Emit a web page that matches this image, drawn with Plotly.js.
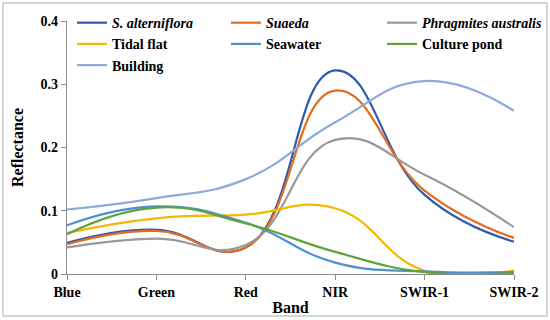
<!DOCTYPE html>
<html>
<head>
<meta charset="utf-8">
<script src="https://cdn.plot.ly/plotly-3.0.1.min.js"></script>
</head>
<body style="margin:0;padding:0;background:#fff">
<div id="chart" style="width:550px;height:320px"></div>
<script>
const bands = ["Blue", "Green", "Red", "NIR", "SWIR-1", "SWIR-2"];
const yTickVals = [0, 0.1, 0.2, 0.3, 0.4];
const yTickText = ["0", "0.1", "0.2", "0.3", "0.4"];
const seriesNames = ["<b><i>S. alterniflora</i></b>", "<b><i>Suaeda</i></b>", "<b><i>Phragmites australis</i></b>", "<b>Tidal flat</b>", "<b>Seawater</b>", "<b>Culture pond</b>", "<b>Building</b>"];
const sAlterniflora = [0.049, 0.070, 0.042, 0.322, 0.125, 0.051];
const suaeda       = [0.047, 0.068, 0.042, 0.290, 0.132, 0.057];
const phragmites   = [0.042, 0.056, 0.046, 0.212, 0.157, 0.074];
const tidalFlat    = [0.065, 0.088, 0.094, 0.104, 0.005, 0.006];
const seawater     = [0.077, 0.107, 0.081, 0.018, 0.004, 0.003];
const culturePond  = [0.063, 0.105, 0.080, 0.035, 0.003, 0.002];
const building     = [0.102, 0.120, 0.150, 0.240, 0.305, 0.258];
const colors = ["#2E5CAB", "#E46C1F", "#999999", "#F5B800", "#4F8FD0", "#5FA33A", "#8EA9DB"];
const legendColumn = ["legend", "legend2", "legend3", "legend", "legend2", "legend3", "legend"];

const allSeries = [sAlterniflora, suaeda, phragmites, tidalFlat, seawater, culturePond, building];
const traces = allSeries.map((vals, i) => ({
  x: bands,
  y: vals,
  name: seriesNames[i],
  legend: legendColumn[i],
  type: "scatter",
  mode: "lines",
  line: {color: colors[i], width: 2.2, shape: "spline", smoothing: 1.3},
  hoverinfo: "skip"
}));

const fam = "Liberation Serif";
const L = 67, R = 514, T = 21, B = 274, W = 550, H = 320;
const pw = R - L, ph = B - T;
const bold = s => "<b>" + s + "</b>";
const legendFont = {family: fam, color: "#000", size: 14};
const mkLegend = x => ({
  orientation: "v", x: x, xanchor: "left", y: 1.055, yanchor: "top",
  font: legendFont, bgcolor: "rgba(0,0,0,0)", traceorder: "normal",
  itemclick: false, tracegroupgap: 0
});

const layout = {
  width: W, height: H,
  margin: {l: L, r: W - R, t: T, b: H - B, pad: 0, autoexpand: false},
  paper_bgcolor: "#fff", plot_bgcolor: "#fff",
  font: {family: fam, color: "#000", size: 13},
  showlegend: true,
  legend: mkLegend((72 - L) / pw),
  legend2: mkLegend((226 - L) / pw),
  legend3: mkLegend((382 - L) / pw),
  xaxis: {
    type: "category", range: [0, 5], showgrid: false, zeroline: false, automargin: false,
    showline: true, linecolor: "#8c8c8c", linewidth: 1.3,
    ticks: "outside", ticklen: 5, tickcolor: "#8c8c8c",
    tickvals: bands, ticktext: bands.map(bold),
    tickfont: {family: fam, color: "#000", size: 14},
    title: {text: bold("Band"), font: {family: fam, color: "#000", size: 16}, standoff: 2}
  },
  yaxis: {
    range: [0, 0.4], showgrid: false, zeroline: false, automargin: false,
    showline: true, linecolor: "#8c8c8c", linewidth: 1.3,
    ticks: "outside", ticklen: 5, tickcolor: "#8c8c8c",
    tickvals: yTickVals, ticktext: yTickText.map(bold),
    tickfont: {family: fam, color: "#000", size: 14},
    title: {text: bold("Reflectance"), font: {family: fam, color: "#000", size: 16}, standoff: 12}
  },
  shapes: [{
    type: "rect", xref: "paper", yref: "paper",
    x0: (3 - L) / pw, x1: (547 - L) / pw,
    y0: (B - 316) / ph, y1: (B - 3) / ph,
    line: {color: "#c8c8c8", width: 1.5}, fillcolor: "rgba(0,0,0,0)", layer: "below"
  }]
};

Plotly.newPlot("chart", traces, layout, {displayModeBar: false, staticPlot: true});
</script>
</body>
</html>
